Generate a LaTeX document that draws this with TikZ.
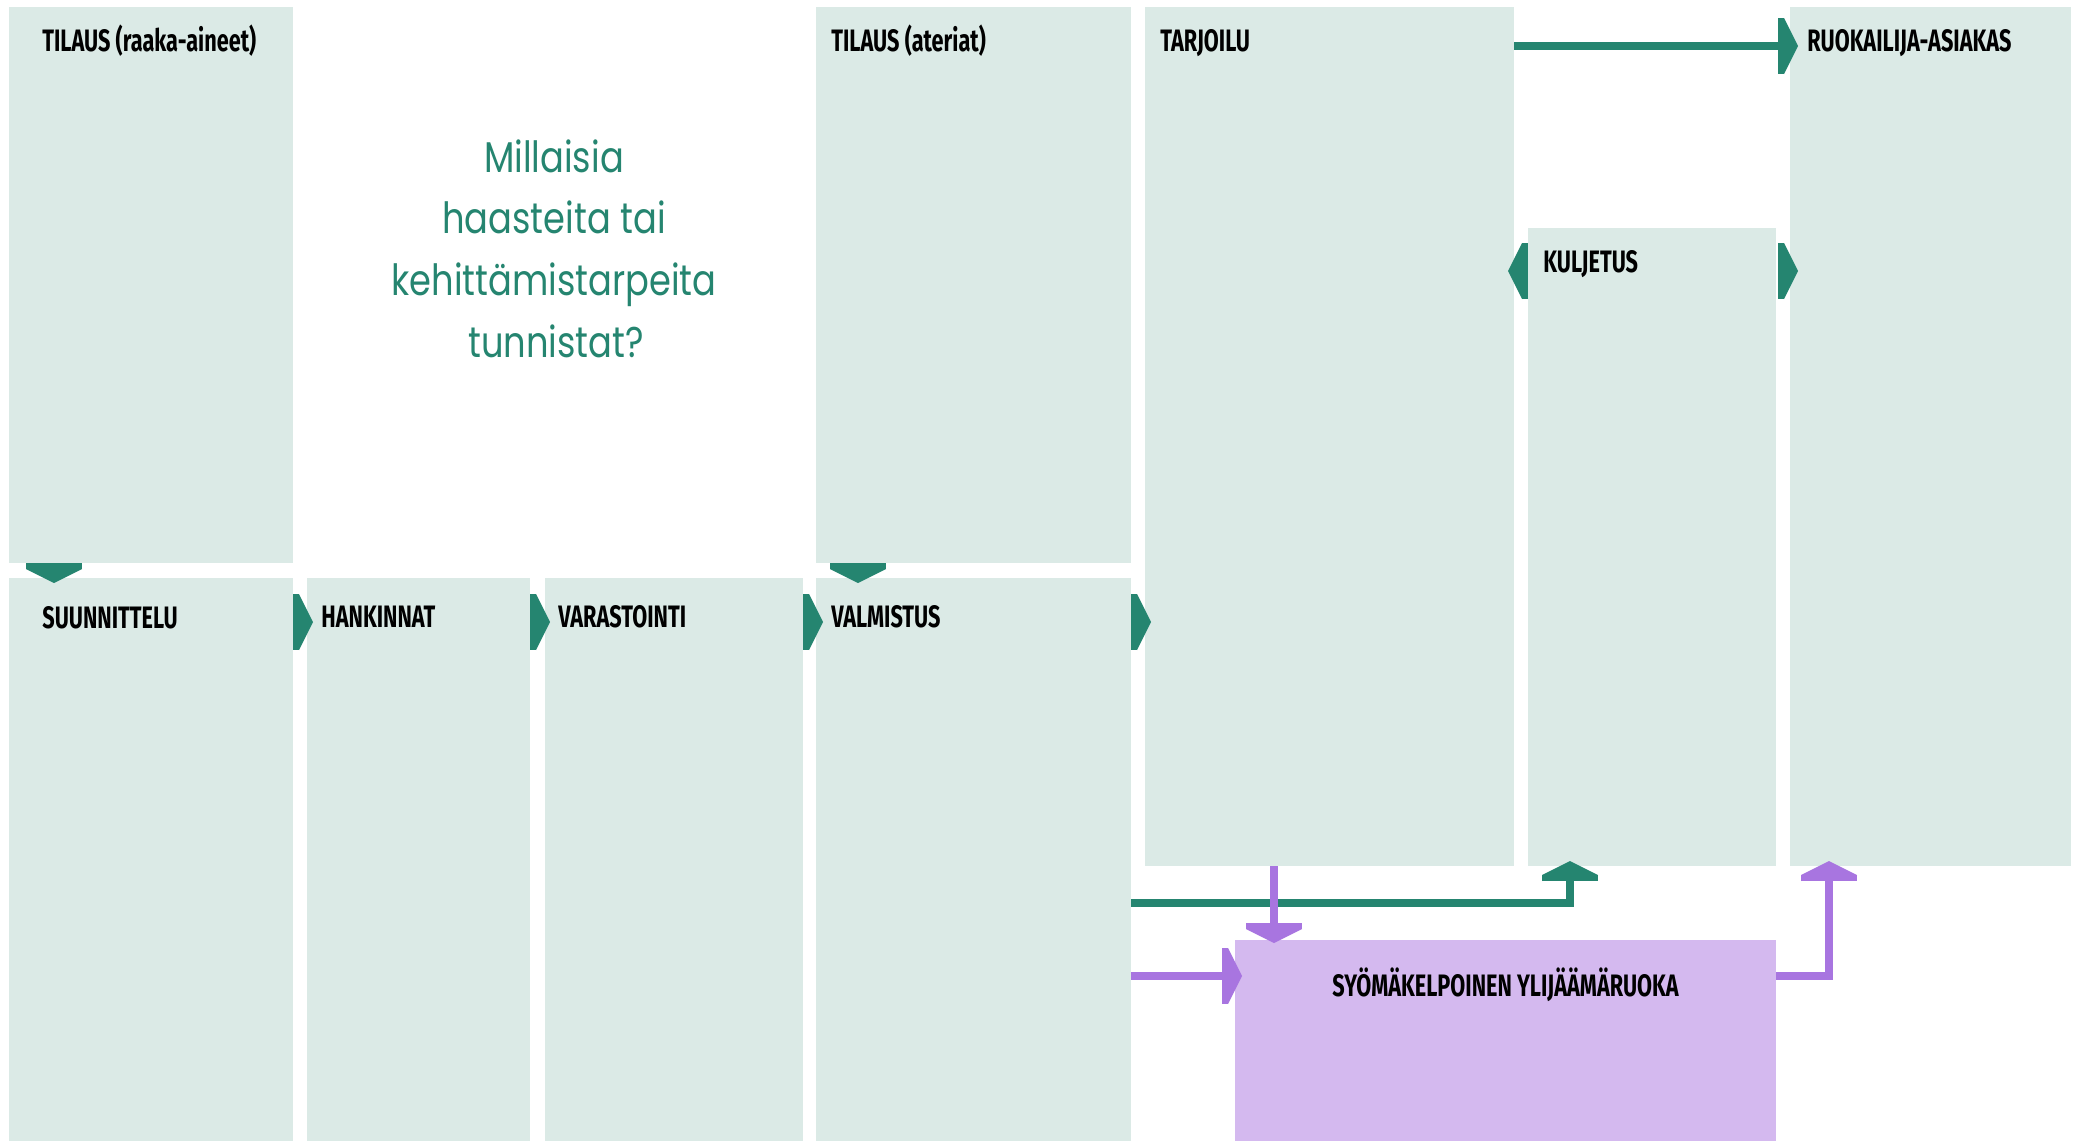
\documentclass[tikz,border=0pt]{standalone}
\usepackage{fontspec}
\usetikzlibrary{arrows.meta,calc}
\newfontfamily\lblfont[FakeStretch=0.7]{Fira Sans}
\newfontfamily\qfont[FakeStretch=0.82]{Poppins}
\definecolor{boxc}{HTML}{DBEAE6}
\definecolor{grn}{HTML}{258570}
\definecolor{pbox}{HTML}{D4B9EF}
\definecolor{pur}{HTML}{A875E0}
\begin{document}
\begin{tikzpicture}[x=0.5pt,y=-0.5pt,
 box/.style={fill=boxc, inner sep=0pt, outer sep=0pt, anchor=north west, draw=none},
 lbl/.style={font=\lblfont\bfseries\fontsize{15.5}{18}\selectfont, anchor=base west, inner sep=0pt, text=black},
 qline/.style={font=\qfont\fontsize{21.5}{31}\selectfont, text=grn, anchor=base, inner sep=0pt},
 gline/.style={draw=grn, line width=3.75pt},
 pline/.style={draw=pur, line width=3.75pt},
 tab/.style={line width=28pt, line cap=butt, -{Triangle[length=7pt, width=28pt, line width=0pt]}},
 gtab/.style={tab, draw=grn},
 ptab/.style={tab, draw=pur},
]
\fill[white] (0,0) rectangle (2078,1141);
\useasboundingbox (0,0) rectangle (2078,1141);

% boxes
\node[box, minimum width=142pt, minimum height=278pt] (tilr) at (9,7) {};
\node[box, minimum width=142pt, minimum height=281.5pt] (suun) at (9,578) {};
\node[box, minimum width=111.5pt, minimum height=281.5pt] (hank) at (307,578) {};
\node[box, minimum width=129pt, minimum height=281.5pt] (vara) at (545,578) {};
\node[box, minimum width=157.5pt, minimum height=278pt] (tila) at (816,7) {};
\node[box, minimum width=157.5pt, minimum height=281.5pt] (valm) at (816,578) {};
\node[box, minimum width=184.5pt, minimum height=429.5pt] (tarj) at (1145,7) {};
\node[box, minimum width=124pt, minimum height=319pt] (kulj) at (1528,228) {};
\node[box, minimum width=140.5pt, minimum height=429.5pt] (ruok) at (1790,7) {};
\node[box, fill=pbox, minimum width=270.5pt, minimum height=100.5pt] (syom) at (1235,940) {};

% labels
\node[lbl] (l1) at ($(tilr.north west)+(33,44)$) {TILAUS (raaka-aineet)};
\node[lbl] (l2) at ($(suun.north west)+(33,50)$) {SUUNNITTELU};
\node[lbl] (l3) at ($(hank.north west)+(14,49)$) {HANKINNAT};
\node[lbl] (l4) at ($(vara.north west)+(13,49)$) {VARASTOINTI};
\node[lbl] (l5) at ($(tila.north west)+(15,44)$) {TILAUS (ateriat)};
\node[lbl] (l6) at ($(valm.north west)+(15,49)$) {VALMISTUS};
\node[lbl] (l7) at ($(tarj.north west)+(15,44)$) {TARJOILU};
\node[lbl] (l8) at ($(kulj.north west)+(15,44)$) {KULJETUS};
\node[lbl] (l9) at ($(ruok.north west)+(17,44)$) {RUOKAILIJA-ASIAKAS};
\node[lbl, anchor=base] (l10) at ($(syom.north)+(0,56)$) {SYÖMÄKELPOINEN YLIJÄÄMÄRUOKA};

% question
\node[qline] (q1) at (554,172) {Millaisia};
\node[qline] (q2) at (554,233) {haasteita tai};
\node[qline] (q3) at (554,295) {kehittämistarpeita};
\node[qline] (q4) at (556,357) {tunnistat?};

% tabs between boxes
\draw[gtab] ($(tilr.south west)+(45,0)$) -- ++(0,20);
\draw[gtab] ($(tila.south west)+(42,0)$) -- ++(0,20);
\draw[gtab] ($(suun.north east)+(0,44)$) -- ++(20,0);
\draw[gtab] ($(hank.north east)+(0,44)$) -- ++(20,0);
\draw[gtab] ($(vara.north east)+(0,44)$) -- ++(20,0);
\draw[gtab] ($(valm.north east)+(0,44)$) -- ++(20,0);
\draw[gtab] ($(kulj.north west)+(0,43)$) -- ++(-20,0);
\draw[gtab] ($(kulj.north east)+(2,43)$) -- ++(20,0);

% top green connector
\coordinate (t0) at ($(tarj.north east)+(0,39)$);
\coordinate (t1) at ($(kulj.east |- t0)+(2,0)$);
\draw[gline] (t0) -- (t1);
\draw[gtab] (t1) -- ++(20,0);

% bottom green connector
\coordinate (g0) at ($(valm.north east)+(0,325)$);
\coordinate (g1) at ($(kulj.south west)+(42,15)$);
\draw[gline] (g0) -- (g0 -| g1) -- (g1);
\draw[gtab] (g1) -- ++(0,-20);

% purple connectors
\coordinate (p0) at ($(tarj.south west)+(129,0)$);
\coordinate (p1y) at ($(syom.north)+(0,-17)$);
\coordinate (p1) at (p0 |- p1y);
\draw[pline] (p0) -- (p1);
\draw[ptab] (p1) -- ++(0,20);

\coordinate (p2) at ($(valm.north east)+(0,398)$);
\coordinate (p3) at ($(syom.west |- p2)+(-13,0)$);
\draw[pline] (p2) -- (p3);
\draw[ptab] (p3) -- ++(20,0);

\coordinate (p4) at (syom.east |- p2);
\coordinate (p5) at ($(ruok.south west)+(39,15)$);
\draw[pline] (p4) -- (p4 -| p5) -- (p5);
\draw[ptab] (p5) -- ++(0,-20);
\end{tikzpicture}
\end{document}
